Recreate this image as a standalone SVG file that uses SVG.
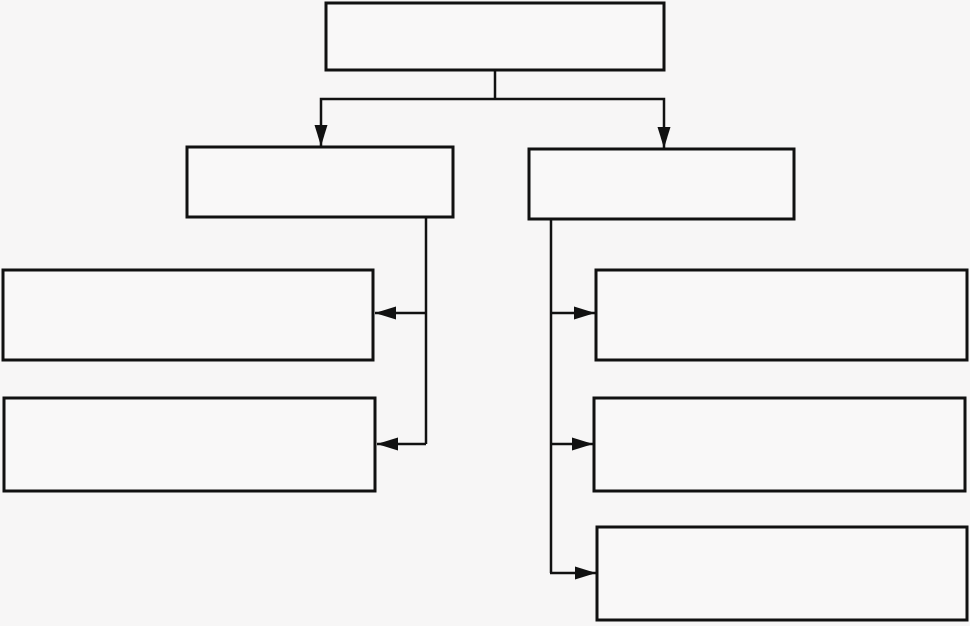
<svg xmlns="http://www.w3.org/2000/svg" width="970" height="626" viewBox="0 0 970 626">
<style>
.box{fill:#f9f8f8;stroke:#111;stroke-width:3}
.conn{fill:none;stroke:#111;stroke-width:2.5}
.arr{marker-end:url(#ah)}
</style>
<defs>
<marker id="ah" markerUnits="userSpaceOnUse" markerWidth="21" markerHeight="14" refX="21" refY="7" orient="auto">
<path d="M0,0.5 L21,7 L0,13.5 Z" fill="#111"/>
</marker>
</defs>
<rect width="970" height="626" fill="#f7f6f6"/>
<g id="connectors">
<path class="conn" d="M495,70 V99"/>
<path class="conn arr" d="M495,99 H321 V146"/>
<path class="conn arr" d="M495,99 H664 V148"/>
<path class="conn" d="M426,217 V444"/>
<path class="conn arr" d="M426,313 H375"/>
<path class="conn arr" d="M426,444 H377"/>
<path class="conn" d="M551,219 V573"/>
<path class="conn arr" d="M550,313 H595"/>
<path class="conn arr" d="M550,444 H593"/>
<path class="conn arr" d="M550,573 H596"/>
</g>
<g id="top"><rect class="box" x="326" y="3" width="338" height="67"/></g>
<g id="left"><rect class="box" x="187" y="147" width="266" height="70"/></g>
<g id="right"><rect class="box" x="529" y="149" width="265" height="70"/></g>
<g id="left1"><rect class="box" x="3" y="270" width="370" height="90"/></g>
<g id="left2"><rect class="box" x="4" y="398" width="371" height="93"/></g>
<g id="right1"><rect class="box" x="596" y="270" width="371" height="90"/></g>
<g id="right2"><rect class="box" x="594" y="398" width="371" height="93"/></g>
<g id="right3"><rect class="box" x="597" y="527" width="370" height="93"/></g>
</svg>
